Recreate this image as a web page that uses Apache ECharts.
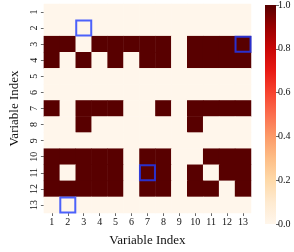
<!DOCTYPE html>
<html><head><meta charset="utf-8">
<script src="https://cdn.jsdelivr.net/npm/echarts@6/dist/echarts.min.js"></script>
<style>html,body{margin:0;padding:0;background:#fff}#c{width:294px;height:252px}</style>
</head><body><div id="c"></div>
<script>
const xLabels = ['1','2','3','4','5','6','7','8','9','10','11','12','13'];
const yLabels = ['1','2','3','4','5','6','7','8','9','10','11','12','13'];
const matrixRows = [
  [0,0,0,0,0,0,0,0,0,0,0,0,0],
  [0,0,0,0,0,0,0,0,0,0,0,0,0],
  [1,1,0,1,1,1,1,1,0,1,1,1,1],
  [1,0,1,0,1,0,1,1,0,1,1,1,1],
  [0,0,0,0,0,0,0,0,0,0,0,0,0],
  [0,0,0,0,0,0,0,0,0,0,0,0,0],
  [1,0,1,1,1,0,0,1,0,1,1,1,1],
  [0,0,1,0,0,0,0,0,0,1,0,0,0],
  [0,0,0,0,0,0,0,0,0,0,0,0,0],
  [1,1,1,1,1,0,1,1,0,0,1,1,1],
  [1,0,1,1,1,0,1,1,0,1,0,1,1],
  [1,1,1,1,1,0,1,1,0,1,1,0,1],
  [0,0,0,0,0,0,0,0,0,0,0,0,0]
];
// highlighted cells: [column label, row label]
const highlightCols = ['3','13','7','2'];
const highlightRows = ['2','3','11','13'];
const colorbarTicks = [0, 0.2, 0.4, 0.6, 0.8, 1.0];

const cmap = [
  [0.0,'#fff6eb'],[0.1,'#feead0'],[0.2,'#fed9a8'],[0.3,'#fdbd86'],
  [0.4,'#fc9a68'],[0.5,'#fb6e4e'],[0.6,'#f7432f'],[0.7,'#e81a14'],
  [0.8,'#c80606'],[0.9,'#980000'],[1.0,'#580000']
];

const heatData = [];
matrixRows.forEach((row, r) => row.forEach((v, c) => heatData.push([c, r, v])));
const boxData = highlightCols.map((c, i) => [c, highlightRows[i]]);

const font = 'Liberation Serif';
const chart = echarts.init(document.getElementById('c'), null, {renderer:'canvas'});
chart.setOption({
  animation: false,
  backgroundColor: '#fff',
  grid: [
    {left: 29, top: 4, width: 222, height: 221},
    {left: 265, top: 4, width: 11, height: 220}
  ],
  xAxis: [
    {type:'category', data:xLabels, gridIndex:0, position:'bottom',
     axisLine:{show:false}, axisTick:{show:true, alignWithLabel:true, length:3, lineStyle:{color:'#444', width:0.8}},
     axisLabel:{fontFamily:font, fontSize:10, color:'#111', margin:4},
     splitLine:{show:false},
     name:'Variable Index', nameLocation:'middle', nameGap:21,
     nameTextStyle:{fontFamily:font, fontSize:13, color:'#111'}},
    {type:'category', data:['c'], gridIndex:1, show:false}
  ],
  yAxis: [
    {type:'category', data:yLabels, gridIndex:0, inverse:true,
     axisLine:{show:false}, axisTick:{show:true, alignWithLabel:true, length:3, lineStyle:{color:'#444', width:0.8}},
     axisLabel:{fontFamily:font, fontSize:10, color:'#111', rotate:90, margin:5},
     splitLine:{show:false},
     name:'Variable Index', nameLocation:'middle', nameGap:15, nameRotate:90,
     nameTextStyle:{fontFamily:font, fontSize:13, color:'#111'}},
    {type:'value', gridIndex:1, min:0, max:1, interval:0.2, position:'right',
     axisLine:{show:false}, axisTick:{show:true, length:3, lineStyle:{color:'#444', width:0.8}},
     axisLabel:{fontFamily:font, fontSize:10, color:'#111', margin:2, formatter:v=>v.toFixed(1)},
     splitLine:{show:false}}
  ],
  visualMap: {type:'continuous', min:0, max:1, show:false, seriesIndex:0,
    inRange:{color: cmap.map(s=>s[1])}},
  series: [
    {type:'heatmap', xAxisIndex:0, yAxisIndex:0, data:heatData,
     itemStyle:{borderWidth:0}},
    {type:'scatter', xAxisIndex:0, yAxisIndex:0, data:boxData, symbol:'rect', symbolSize:15,
     itemStyle:{color:'rgba(0,0,0,0)', borderColor:'#1f3cff', borderWidth:2}, z:5},
    {type:'bar', xAxisIndex:1, yAxisIndex:1, data:[1], barWidth:'100%',
     itemStyle:{color:{type:'linear', x:0, y:1, x2:0, y2:0,
       colorStops: cmap.map(s=>({offset:s[0], color:s[1]}))}}}
  ]
});
</script></body></html>
